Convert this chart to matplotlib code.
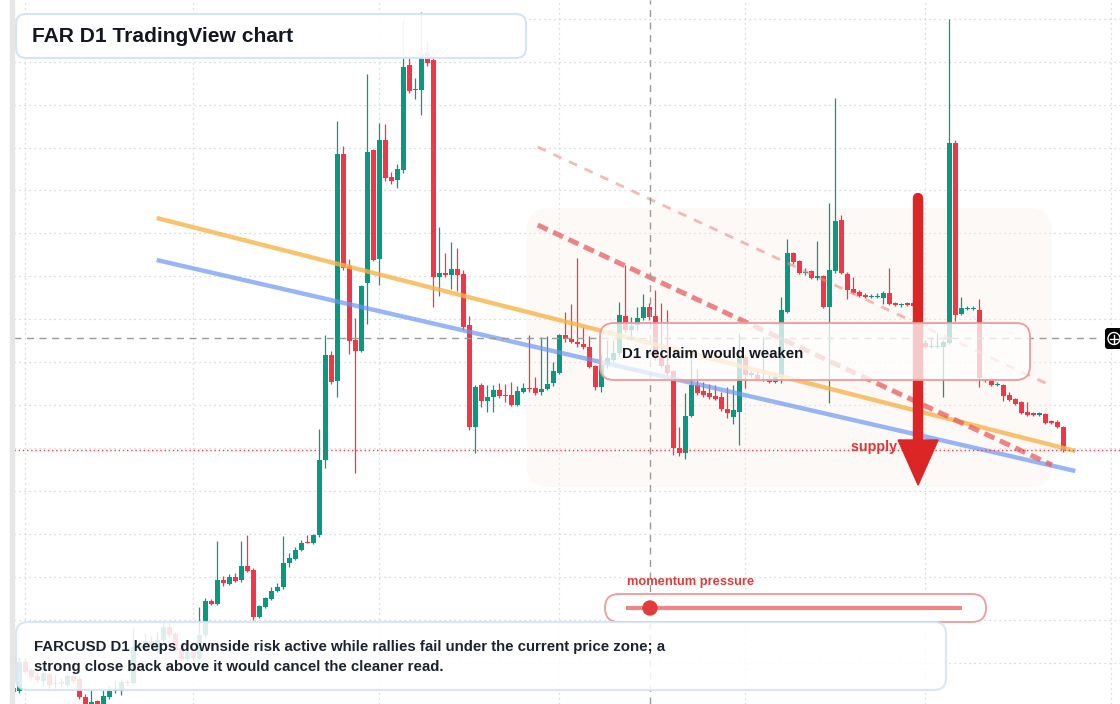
import numpy as np
import matplotlib
matplotlib.use("Agg")
import matplotlib.pyplot as plt
from matplotlib.patches import FancyBboxPatch, Polygon, Circle, Rectangle

plt.rcParams['font.family'] = ['Liberation Sans', 'DejaVu Sans']

# FARCUSD daily candles (one per day, oldest first)
opens = [0.0016, 0.0013, 0.0042, 0.0034, 0.0028, 0.0023, 0.0030, 0.0020, 0.0022, 0.0019,
         0.0028, 0.0025, 0.0007, 0.0000, 0.0003, 0.0000, 0.0007, 0.0013, 0.0013, 0.0022,
         0.0021, 0.0056, 0.0058, 0.0063, 0.0053, 0.0064, 0.0077, 0.0070, 0.0056, 0.0045,
         0.0052, 0.0045, 0.0069, 0.0103, 0.0100, 0.0124, 0.0120, 0.0127, 0.0124, 0.0138,
         0.0134, 0.0087, 0.0097, 0.0105, 0.0113, 0.0117, 0.0141, 0.0145, 0.0154, 0.0162,
         0.0161, 0.0169, 0.0244, 0.0349, 0.0323, 0.0550, 0.0438, 0.0364, 0.0353, 0.0421,
         0.0554, 0.0445, 0.0564, 0.0527, 0.0524, 0.0534, 0.0639, 0.0614, 0.0614, 0.0652,
         0.0644, 0.0427, 0.0431, 0.0429, 0.0435, 0.0430, 0.0379, 0.0277, 0.0319, 0.0303,
         0.0307, 0.0314, 0.0309, 0.0309, 0.0299, 0.0312, 0.0316, 0.0316, 0.0312, 0.0315,
         0.0321, 0.0331, 0.0369, 0.0365, 0.0362, 0.0360, 0.0357, 0.0338, 0.0317, 0.0339,
         0.0344, 0.0351, 0.0388, 0.0374, 0.0379, 0.0386, 0.0397, 0.0388, 0.0347, 0.0339,
         0.0333, 0.0256, 0.0251, 0.0288, 0.0319, 0.0313, 0.0311, 0.0308, 0.0307, 0.0295,
         0.0287, 0.0292, 0.0347, 0.0331, 0.0329, 0.0324, 0.0325, 0.0322, 0.0327, 0.0392,
         0.0451, 0.0443, 0.0431, 0.0433, 0.0426, 0.0428, 0.0397, 0.0433, 0.0484, 0.0430,
         0.0415, 0.0412, 0.0409, 0.0407, 0.0407, 0.0406, 0.0411, 0.0401, 0.0399, 0.0401,
         0.0401, 0.0398, 0.0361, 0.0357, 0.0357, 0.0357, 0.0361, 0.0561, 0.0390, 0.0395,
         0.0395, 0.0394, 0.0325, 0.0325, 0.0319, 0.0319, 0.0309, 0.0305, 0.0302, 0.0292,
         0.0291, 0.0289, 0.0290, 0.0283, 0.0282, 0.0277]
closes = [0.0012, 0.0042, 0.0032, 0.0027, 0.0024, 0.0031, 0.0019, 0.0021, 0.0020, 0.0028,
          0.0023, 0.0007, 0.0000, 0.0002, 0.0000, 0.0008, 0.0013, 0.0014, 0.0022, 0.0021,
          0.0057, 0.0060, 0.0063, 0.0059, 0.0064, 0.0077, 0.0069, 0.0054, 0.0045, 0.0052,
          0.0046, 0.0069, 0.0103, 0.0100, 0.0124, 0.0121, 0.0127, 0.0123, 0.0138, 0.0133,
          0.0087, 0.0098, 0.0106, 0.0113, 0.0117, 0.0141, 0.0146, 0.0154, 0.0161, 0.0161,
          0.0169, 0.0244, 0.0349, 0.0322, 0.0550, 0.0436, 0.0363, 0.0353, 0.0418, 0.0552,
          0.0444, 0.0564, 0.0526, 0.0523, 0.0535, 0.0637, 0.0613, 0.0615, 0.0650, 0.0641,
          0.0427, 0.0431, 0.0429, 0.0435, 0.0429, 0.0377, 0.0277, 0.0317, 0.0303, 0.0307,
          0.0314, 0.0308, 0.0308, 0.0299, 0.0313, 0.0316, 0.0315, 0.0311, 0.0315, 0.0320,
          0.0333, 0.0369, 0.0365, 0.0362, 0.0360, 0.0357, 0.0337, 0.0317, 0.0339, 0.0346,
          0.0351, 0.0389, 0.0374, 0.0378, 0.0386, 0.0397, 0.0387, 0.0347, 0.0338, 0.0331,
          0.0256, 0.0251, 0.0288, 0.0319, 0.0311, 0.0309, 0.0307, 0.0305, 0.0295, 0.0291,
          0.0294, 0.0347, 0.0329, 0.0329, 0.0325, 0.0325, 0.0322, 0.0327, 0.0394, 0.0451,
          0.0442, 0.0431, 0.0432, 0.0426, 0.0428, 0.0397, 0.0434, 0.0483, 0.0431, 0.0414,
          0.0411, 0.0408, 0.0407, 0.0408, 0.0408, 0.0411, 0.0400, 0.0399, 0.0400, 0.0399,
          0.0398, 0.0359, 0.0357, 0.0358, 0.0358, 0.0362, 0.0561, 0.0389, 0.0396, 0.0396,
          0.0396, 0.0326, 0.0323, 0.0319, 0.0320, 0.0308, 0.0304, 0.0300, 0.0291, 0.0289,
          0.0289, 0.0291, 0.0281, 0.0281, 0.0277, 0.0254]
highs = [0.0018, 0.0047, 0.0046, 0.0036, 0.0032, 0.0032, 0.0032, 0.0030, 0.0026, 0.0030,
         0.0031, 0.0028, 0.0010, 0.0014, 0.0004, 0.0014, 0.0018, 0.0024, 0.0025, 0.0024,
         0.0076, 0.0064, 0.0071, 0.0068, 0.0072, 0.0083, 0.0081, 0.0072, 0.0059, 0.0056,
         0.0054, 0.0097, 0.0106, 0.0105, 0.0163, 0.0128, 0.0130, 0.0131, 0.0163, 0.0169,
         0.0136, 0.0099, 0.0107, 0.0117, 0.0121, 0.0168, 0.0151, 0.0157, 0.0164, 0.0169,
         0.0170, 0.0275, 0.0369, 0.0353, 0.0583, 0.0558, 0.0445, 0.0386, 0.0419, 0.0630,
         0.0555, 0.0581, 0.0580, 0.0532, 0.0540, 0.0684, 0.0649, 0.0626, 0.0692, 0.0663,
         0.0646, 0.0477, 0.0451, 0.0462, 0.0456, 0.0434, 0.0388, 0.0319, 0.0321, 0.0319,
         0.0319, 0.0321, 0.0320, 0.0322, 0.0318, 0.0321, 0.0369, 0.0327, 0.0367, 0.0368,
         0.0342, 0.0370, 0.0392, 0.0400, 0.0446, 0.0377, 0.0368, 0.0339, 0.0349, 0.0364,
         0.0364, 0.0402, 0.0439, 0.0387, 0.0397, 0.0410, 0.0401, 0.0414, 0.0401, 0.0394,
         0.0334, 0.0277, 0.0311, 0.0347, 0.0335, 0.0322, 0.0320, 0.0319, 0.0312, 0.0317,
         0.0319, 0.0371, 0.0349, 0.0334, 0.0334, 0.0367, 0.0329, 0.0331, 0.0407, 0.0465,
         0.0452, 0.0444, 0.0436, 0.0434, 0.0463, 0.0429, 0.0501, 0.0606, 0.0489, 0.0432,
         0.0427, 0.0414, 0.0411, 0.0410, 0.0411, 0.0413, 0.0436, 0.0402, 0.0401, 0.0402,
         0.0404, 0.0414, 0.0364, 0.0367, 0.0371, 0.0364, 0.0685, 0.0564, 0.0407, 0.0398,
         0.0398, 0.0405, 0.0326, 0.0326, 0.0322, 0.0320, 0.0312, 0.0306, 0.0303, 0.0302,
         0.0292, 0.0292, 0.0291, 0.0284, 0.0284, 0.0278]
lows = [0.0010, 0.0011, 0.0031, 0.0025, 0.0022, 0.0018, 0.0016, 0.0016, 0.0017, 0.0017,
        0.0021, 0.0005, 0.0001, 0.0001, 0.0001, 0.0001, 0.0005, 0.0011, 0.0009, 0.0019,
        0.0020, 0.0054, 0.0056, 0.0056, 0.0052, 0.0062, 0.0067, 0.0052, 0.0043, 0.0043,
        0.0044, 0.0044, 0.0067, 0.0099, 0.0099, 0.0118, 0.0119, 0.0122, 0.0122, 0.0132,
        0.0084, 0.0086, 0.0096, 0.0104, 0.0112, 0.0115, 0.0137, 0.0144, 0.0153, 0.0161,
        0.0160, 0.0167, 0.0236, 0.0320, 0.0307, 0.0434, 0.0350, 0.0231, 0.0352, 0.0380,
        0.0443, 0.0419, 0.0523, 0.0520, 0.0516, 0.0531, 0.0611, 0.0605, 0.0589, 0.0638,
        0.0397, 0.0408, 0.0427, 0.0415, 0.0413, 0.0374, 0.0274, 0.0251, 0.0297, 0.0292,
        0.0292, 0.0306, 0.0302, 0.0298, 0.0298, 0.0311, 0.0312, 0.0309, 0.0309, 0.0314,
        0.0318, 0.0330, 0.0362, 0.0361, 0.0357, 0.0355, 0.0336, 0.0314, 0.0312, 0.0336,
        0.0342, 0.0349, 0.0372, 0.0364, 0.0374, 0.0384, 0.0384, 0.0344, 0.0336, 0.0329,
        0.0249, 0.0248, 0.0245, 0.0287, 0.0309, 0.0307, 0.0305, 0.0304, 0.0293, 0.0286,
        0.0280, 0.0259, 0.0316, 0.0327, 0.0324, 0.0323, 0.0321, 0.0321, 0.0321, 0.0391,
        0.0440, 0.0430, 0.0429, 0.0425, 0.0424, 0.0396, 0.0301, 0.0431, 0.0430, 0.0405,
        0.0410, 0.0407, 0.0406, 0.0406, 0.0406, 0.0400, 0.0399, 0.0398, 0.0397, 0.0398,
        0.0397, 0.0354, 0.0356, 0.0356, 0.0356, 0.0307, 0.0360, 0.0383, 0.0389, 0.0394,
        0.0394, 0.0317, 0.0322, 0.0318, 0.0318, 0.0303, 0.0303, 0.0299, 0.0290, 0.0288,
        0.0288, 0.0288, 0.0280, 0.0280, 0.0276, 0.0252]

# drawings: (bar index, price) anchors
orange_line = ([23.9, 177.0], [0.0486, 0.0253])
blue_line = ([23.9, 177.0], [0.0444, 0.0233])
red_channel = ([87.4, 173.1], [0.0479, 0.0239])
red_channel_upper = ([87.4, 173.1], [0.0557, 0.0318])
zone_bars = (85.6, 173.1)
zone_prices = (0.0217, 0.0496)
arrow_bar = 150.8
arrow_prices = (0.0506, 0.0219)
last_price = 0.0254
cross_bar = 106.1
cross_price = 0.0366
month_starts = [2, 30, 61, 91, 122, 152, 183]
grid_prices = [0.0685, 0.0642, 0.0599, 0.0556, 0.0514, 0.0471, 0.0428, 0.0385,
               0.0342, 0.0299, 0.0256, 0.0213, 0.0170, 0.0127, 0.0084, 0.0041]

GREEN = '#089981'
RED = '#f23645'
W, H = 1120, 704
X0, X1 = -2.217, 184.45
PANE_LEFT = X0 + 14 / 6   # bar position of the pane's left edge

fig = plt.figure(figsize=(W / 100, H / 100), dpi=100)
fig.patch.set_facecolor('white')
ax = fig.add_axes([0, 0, 1, 1], zorder=1)
ax.set_xlim(X0, X1)
ax.set_ylim(0, 0.0704)
ax.axis('off')

ov = fig.add_axes([0, 0, 1, 1], zorder=3)
ov.set_xlim(0, W)
ov.set_ylim(H, 0)
ov.axis('off')
ov.patch.set_alpha(0)

# grid
ax.hlines(grid_prices, PANE_LEFT, X1, color='#cfcfcf', lw=0.9, linestyles=(0, (1, 3)), zorder=0)
for m in month_starts:
    ax.axvline(m, color='#cfcfcf', lw=0.9, ls=(0, (1, 3)), zorder=0)

# shaded zone (rounded, drawn in pixel space)
zx0, zy0 = ov.transData.inverted().transform(ax.transData.transform((zone_bars[0], zone_prices[1])))
zx1, zy1 = ov.transData.inverted().transform(ax.transData.transform((zone_bars[1], zone_prices[0])))
ax.add_patch(FancyBboxPatch((zx0, zy0), zx1 - zx0, zy1 - zy0,
                            boxstyle='round,pad=0,rounding_size=22',
                            facecolor='#f8ede4', edgecolor='none', alpha=0.28,
                            transform=ov.transData, zorder=0.5, clip_on=False))

# candles
idx = np.arange(len(opens))
o = np.array(opens); c = np.array(closes)
hi = np.array(highs); lo = np.array(lows)
cols = np.where(c >= o, GREEN, RED)
ax.vlines(idx, lo, hi, colors=cols, lw=0.9, zorder=2)
body_lo = np.minimum(o, c)
body_h = np.maximum(np.abs(c - o), 0.00012)
ax.bar(idx, body_h, bottom=body_lo, width=0.8, color=cols, linewidth=0, zorder=2.1)

# trend lines
ax.plot(*orange_line, color='#f7b44a', lw=3.2, alpha=0.8, solid_capstyle='butt', zorder=3)
ax.plot(*blue_line, color='#6c98f2', lw=3.2, alpha=0.7, solid_capstyle='butt', zorder=3)
ax.plot(*red_channel, color='#e85c5c', lw=3.6, alpha=0.75, ls=(0, (2.2, 1.2)), zorder=3)
ax.plot(*red_channel_upper, color='#f08a8a', lw=2.0, alpha=0.6, ls=(0, (3.2, 3.0)), zorder=3)

# price lines / crosshair
ax.hlines(last_price, PANE_LEFT, X1, color=RED, lw=1.0, linestyles=(0, (1, 2)), zorder=3)
ax.hlines(cross_price, PANE_LEFT, 1100 / 6 + X0, color='#9a9a9a', lw=1.0,
          linestyles=(0, (5, 4)), zorder=3)
ax.axvline(cross_bar, color='#9a9a9a', lw=1.0, ls=(0, (5, 4)), zorder=3)

# supply label sits under the arrow
ax.text(851, 447, 'supply zone', transform=ov.transData, color='#e03535',
        fontsize=10.3, fontweight='bold', va='center', ha='left', zorder=4)

# red arrow
ax.plot([arrow_bar, arrow_bar], [arrow_prices[0], arrow_prices[1] + 0.0045],
        color='#dc2626', lw=7.5, solid_capstyle='round', zorder=5)
hw = 20 / 6
ax.add_patch(Polygon([(arrow_bar - hw, arrow_prices[1] + 0.0045),
                      (arrow_bar + hw, arrow_prices[1] + 0.0045),
                      (arrow_bar, arrow_prices[1])],
                     closed=True, color='#dc2626', zorder=5))

# left panel border
ov.add_patch(Rectangle((10, 0), 4, H, color='#e6e6e6', zorder=1))

# title box
ov.add_patch(FancyBboxPatch((16, 14), 510, 44, boxstyle='round,pad=0,rounding_size=10',
                            facecolor='white', alpha=0.93, edgecolor='#d3e2fa', lw=1.5, zorder=2))
ov.text(32, 36, 'FAR D1 TradingView chart', fontsize=15.1, fontweight='bold',
        color='#131722', va='center', ha='left', zorder=3)

# reclaim box
ov.add_patch(FancyBboxPatch((600, 323), 430, 57, boxstyle='round,pad=0,rounding_size=14',
                            facecolor='white', alpha=0.75, edgecolor='none', zorder=2))
ov.add_patch(FancyBboxPatch((600, 323), 430, 57, boxstyle='round,pad=0,rounding_size=14',
                            facecolor='none', edgecolor='#ee9a9a', lw=1.3, zorder=2.1))
ov.text(622, 354, 'D1 reclaim would weaken', fontsize=10.8, fontweight='bold',
        color='#131722', va='center', ha='left', zorder=3)

# momentum pill
ov.text(627, 582, 'momentum pressure', fontsize=9.3, fontweight='bold',
        color='#e03a3a', va='center', ha='left', zorder=3)
ov.add_patch(FancyBboxPatch((605, 594), 381, 28, boxstyle='round,pad=0,rounding_size=14',
                            facecolor='white', edgecolor='#f09a9a', lw=1.3, zorder=2))
ov.plot([626, 962], [608, 608], color='#f08585', lw=3, solid_capstyle='butt', zorder=3)
ov.add_patch(Circle((650, 608), 7, color='#e23b3b', zorder=4))

# note box
ov.add_patch(FancyBboxPatch((16, 622), 930, 68, boxstyle='round,pad=0,rounding_size=12',
                            facecolor='white', alpha=0.86, edgecolor='#d3e2fa', lw=1.5, zorder=2))
ov.text(34, 647, 'FARCUSD D1 keeps downside risk active while rallies fail under the current price zone; a',
        fontsize=10.8, fontweight='bold', color='#1b2230', va='center', ha='left', zorder=3)
ov.text(34, 667, 'strong close back above it would cancel the cleaner read.',
        fontsize=10.8, fontweight='bold', color='#1b2230', va='center', ha='left', zorder=3)

# crosshair price tag
ov.add_patch(FancyBboxPatch((1105, 328), 18, 21, boxstyle='round,pad=0,rounding_size=3',
                            facecolor='black', edgecolor='none', zorder=4))
ov.add_patch(Circle((1114, 338.5), 6, facecolor='none', edgecolor='white', lw=1, zorder=5))
ov.plot([1110, 1118], [338.5, 338.5], color='white', lw=1, zorder=5)
ov.plot([1114, 1114], [334.5, 342.5], color='white', lw=1, zorder=5)

fig.savefig('out.png', dpi=100, facecolor='white')
